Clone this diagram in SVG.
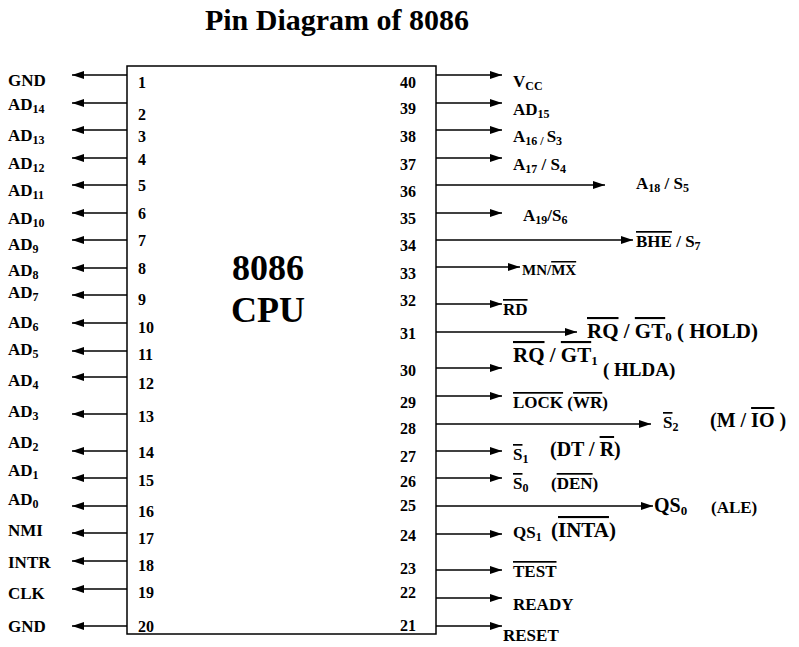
<svg xmlns="http://www.w3.org/2000/svg" width="799" height="647" viewBox="0 0 799 647">
<style>
text{font-family:"Liberation Serif","Times New Roman",serif;font-weight:bold;fill:#000}
.l{font-size:17px}
.n{font-size:16px}
.b{font-size:21px}
.o{text-decoration:overline}
.s{font-size:12px;baseline-shift:-3px}
line{stroke:#000;stroke-width:1.5}
</style>
<defs>
<marker id="ah" markerWidth="12" markerHeight="8" refX="12" refY="4" orient="auto" markerUnits="userSpaceOnUse">
<path d="M0,0L12,4L0,8Z" fill="#000"/>
</marker>
</defs>
<rect width="799" height="647" fill="#fff"/>
<text x="337" y="30" text-anchor="middle" font-size="30">Pin Diagram of 8086</text>
<g id="chip">
<rect x="127" y="66" width="309" height="568" fill="none" stroke="#000" stroke-width="1.5"/>
<text x="268" y="280" text-anchor="middle" font-size="36">8086</text>
<text x="268" y="322" text-anchor="middle" font-size="36">CPU</text>
<g class="n">
<text x="138" y="88" class="n">1</text><text x="138" y="120" class="n">2</text><text x="138" y="142" class="n">3</text><text x="138" y="165" class="n">4</text><text x="138" y="191" class="n">5</text><text x="138" y="219" class="n">6</text><text x="138" y="246" class="n">7</text><text x="138" y="274" class="n">8</text><text x="138" y="305" class="n">9</text><text x="138" y="333" class="n">10</text><text x="138" y="360" class="n">11</text><text x="138" y="389" class="n">12</text><text x="138" y="422" class="n">13</text><text x="138" y="458" class="n">14</text><text x="138" y="486" class="n">15</text><text x="138" y="517" class="n">16</text><text x="138" y="544" class="n">17</text><text x="138" y="571" class="n">18</text><text x="138" y="598" class="n">19</text><text x="138" y="632" class="n">20</text>
<text x="400" y="88" class="n">40</text><text x="400" y="114" class="n">39</text><text x="400" y="142" class="n">38</text><text x="400" y="170" class="n">37</text><text x="400" y="197" class="n">36</text><text x="400" y="224" class="n">35</text><text x="400" y="251" class="n">34</text><text x="400" y="279" class="n">33</text><text x="400" y="306" class="n">32</text><text x="400" y="339" class="n">31</text><text x="400" y="376" class="n">30</text><text x="400" y="408" class="n">29</text><text x="400" y="434" class="n">28</text><text x="400" y="462" class="n">27</text><text x="400" y="487" class="n">26</text><text x="400" y="511" class="n">25</text><text x="400" y="541" class="n">24</text><text x="400" y="574" class="n">23</text><text x="400" y="598" class="n">22</text><text x="400" y="631" class="n">21</text>
</g>
</g>
<g id="connectors">
<line x1="127" y1="75" x2="72" y2="75" marker-end="url(#ah)"/><line x1="127" y1="103" x2="72" y2="103" marker-end="url(#ah)"/><line x1="127" y1="130" x2="72" y2="130" marker-end="url(#ah)"/><line x1="127" y1="158" x2="72" y2="158" marker-end="url(#ah)"/><line x1="127" y1="185" x2="72" y2="185" marker-end="url(#ah)"/><line x1="127" y1="213" x2="72" y2="213" marker-end="url(#ah)"/><line x1="127" y1="240" x2="72" y2="240" marker-end="url(#ah)"/><line x1="127" y1="268" x2="72" y2="268" marker-end="url(#ah)"/><line x1="127" y1="295" x2="72" y2="295" marker-end="url(#ah)"/><line x1="127" y1="323" x2="72" y2="323" marker-end="url(#ah)"/><line x1="127" y1="351" x2="72" y2="351" marker-end="url(#ah)"/><line x1="127" y1="377" x2="72" y2="377" marker-end="url(#ah)"/><line x1="127" y1="414" x2="72" y2="414" marker-end="url(#ah)"/><line x1="127" y1="451" x2="72" y2="451" marker-end="url(#ah)"/><line x1="127" y1="478" x2="72" y2="478" marker-end="url(#ah)"/><line x1="127" y1="506" x2="72" y2="506" marker-end="url(#ah)"/><line x1="127" y1="533" x2="72" y2="533" marker-end="url(#ah)"/><line x1="127" y1="561" x2="72" y2="561" marker-end="url(#ah)"/><line x1="127" y1="589" x2="72" y2="589" marker-end="url(#ah)"/><line x1="127" y1="626" x2="72" y2="626" marker-end="url(#ah)"/>
<line x1="436" y1="75" x2="502" y2="75" marker-end="url(#ah)"/><line x1="436" y1="103" x2="502" y2="103" marker-end="url(#ah)"/><line x1="436" y1="130" x2="502" y2="130" marker-end="url(#ah)"/><line x1="436" y1="158" x2="502" y2="158" marker-end="url(#ah)"/><line x1="436" y1="185" x2="605" y2="185" marker-end="url(#ah)"/><line x1="436" y1="213" x2="502" y2="213" marker-end="url(#ah)"/><line x1="436" y1="240" x2="633" y2="240" marker-end="url(#ah)"/><line x1="436" y1="267" x2="520" y2="267" marker-end="url(#ah)"/><line x1="436" y1="304" x2="502" y2="304" marker-end="url(#ah)"/><line x1="436" y1="332" x2="577" y2="332" marker-end="url(#ah)"/><line x1="436" y1="368" x2="502" y2="368" marker-end="url(#ah)"/><line x1="436" y1="396" x2="502" y2="396" marker-end="url(#ah)"/><line x1="436" y1="424" x2="651" y2="424" marker-end="url(#ah)"/><line x1="436" y1="451" x2="502" y2="451" marker-end="url(#ah)"/><line x1="436" y1="478" x2="502" y2="478" marker-end="url(#ah)"/><line x1="436" y1="506" x2="653" y2="506" marker-end="url(#ah)"/><line x1="436" y1="534" x2="502" y2="534" marker-end="url(#ah)"/><line x1="436" y1="570" x2="502" y2="570" marker-end="url(#ah)"/><line x1="436" y1="598" x2="502" y2="598" marker-end="url(#ah)"/><line x1="436" y1="626" x2="502" y2="626" marker-end="url(#ah)"/>
</g>
<g id="left-labels">
<text x="8" y="86" class="l">GND</text>
<text x="8" y="110" class="l">AD<tspan class="s">14</tspan></text>
<text x="8" y="141" class="l">AD<tspan class="s">13</tspan></text>
<text x="8" y="169" class="l">AD<tspan class="s">12</tspan></text>
<text x="8" y="196" class="l">AD<tspan class="s">11</tspan></text>
<text x="8" y="224" class="l">AD<tspan class="s">10</tspan></text>
<text x="8" y="250" class="l">AD<tspan class="s">9</tspan></text>
<text x="8" y="276" class="l">AD<tspan class="s">8</tspan></text>
<text x="8" y="298" class="l">AD<tspan class="s">7</tspan></text>
<text x="8" y="328" class="l">AD<tspan class="s">6</tspan></text>
<text x="8" y="355" class="l">AD<tspan class="s">5</tspan></text>
<text x="8" y="386" class="l">AD<tspan class="s">4</tspan></text>
<text x="8" y="417" class="l">AD<tspan class="s">3</tspan></text>
<text x="8" y="448" class="l">AD<tspan class="s">2</tspan></text>
<text x="8" y="476" class="l">AD<tspan class="s">1</tspan></text>
<text x="8" y="505" class="l">AD<tspan class="s">0</tspan></text>
<text x="8" y="536" class="l">NMI</text>
<text x="8" y="568" class="l">INTR</text>
<text x="8" y="599" class="l">CLK</text>
<text x="8" y="632" class="l">GND</text>
</g>
<g id="right-labels">
<text x="513" y="87" class="l">V<tspan class="s">CC</tspan></text>
<text x="513" y="115" class="l">AD<tspan class="s">15</tspan></text>
<text x="513" y="142" class="l">A<tspan class="s">16 / </tspan>S<tspan class="s">3</tspan></text>
<text x="513" y="170" class="l">A<tspan class="s">17</tspan> / S<tspan class="s">4</tspan></text>
<text x="636" y="189" class="l">A<tspan class="s">18</tspan> / S<tspan class="s">5</tspan></text>
<text x="523" y="221" class="l">A<tspan class="s">19</tspan>/S<tspan class="s">6</tspan></text>
<text x="636" y="247" class="l"><tspan class="o">BHE</tspan> / S<tspan class="s">7</tspan></text>
<text x="522" y="275" font-size="15">MN/<tspan class="o">MX</tspan></text>
<text x="503" y="315" class="l"><tspan class="o">RD</tspan></text>
<text x="587" y="338" class="b"><tspan class="o">RQ</tspan> / <tspan class="o">GT</tspan><tspan font-size="13" baseline-shift="-3">0</tspan>  ( HOLD)</text>
<text x="513" y="362" class="b"><tspan class="o">RQ</tspan> / <tspan class="o">GT</tspan><tspan font-size="13" baseline-shift="-3">1</tspan></text>
<text x="603" y="376" font-size="19">( HLDA)</text>
<text x="513" y="408" class="l"><tspan class="o">LOCK</tspan>  (<tspan class="o">WR</tspan>)</text>
<text x="663" y="428" class="l"><tspan class="o">S</tspan><tspan class="s">2</tspan></text>
<text x="710" y="427" font-size="20">(M / <tspan class="o">IO</tspan> )</text>
<text x="513" y="460" class="l"><tspan class="o">S</tspan><tspan class="s">1</tspan></text>
<text x="550" y="456" font-size="20">(DT / <tspan class="o">R</tspan>)</text>
<text x="513" y="489" class="l"><tspan class="o">S</tspan><tspan class="s">0</tspan></text>
<text x="551" y="489" class="l">(<tspan class="o">DEN</tspan>)</text>
<text x="654" y="512" font-size="20">QS<tspan font-size="13" baseline-shift="-3">0</tspan></text>
<text x="711" y="513" class="l">(ALE)</text>
<text x="513" y="538" class="l">QS<tspan class="s">1</tspan></text>
<text x="551" y="537" font-size="21">(<tspan class="o">INTA</tspan>)</text>
<text x="513" y="577" class="l"><tspan class="o">TEST</tspan></text>
<text x="513" y="610" class="l">READY</text>
<text x="503" y="641" class="l">RESET</text>
</g>
</svg>
